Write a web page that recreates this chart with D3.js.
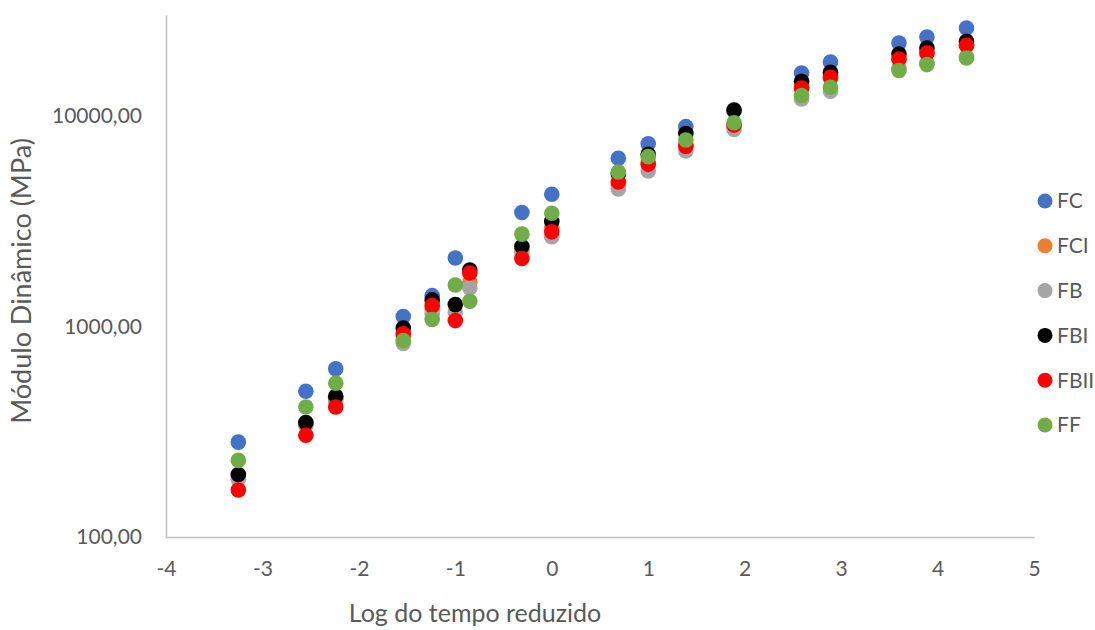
<!DOCTYPE html>
<html>
<head>
<meta charset="utf-8">
<script src="https://cdn.jsdelivr.net/npm/d3@7"></script>
<style>
  html, body { margin: 0; padding: 0; background: #ffffff; }
  svg { display: block; }
  text { font-family: Lato, "Open Sans", sans-serif; fill: #595959; }
</style>
</head>
<body>
<svg id="chart" width="1095" height="630"></svg>
<script>
// ---- data ----
const xValues = [-3.25, -2.55, -2.24, -1.54, -1.24, -1.0, -0.85, -0.31, 0, 0.69, 1.0, 1.39, 1.89, 2.59, 2.89, 3.60, 3.89, 4.30];
const seriesNames = ["FC", "FCI", "FB", "FBI", "FBII", "FF"];
const seriesColors = ["#4472c4", "#ed7d31", "#a5a5a5", "#000000", "#ff0000", "#70ad47"];
const FC   = [282, 492, 629, 1112, 1397, 2107, null, 3465, 4233, 6268, 7346, 8857, 10550, 15920, 17950, 22080, 23570, 26000];
const FCI  = [193, 343, 455, 900, 1200, null, 1616, 2300, 2950, 4700, 6000, 7300, 9000, 13500, 15000, 18500, 19800, 21500];
const FB   = [188, 338, 440, 828, 1145, 1165, 1520, 2233, 2659, 4483, 5459, 6787, 8594, 11990, 13040, 16800, 17800, 19000];
const FBI  = [198, 349, 465, 982, 1334, 1267, 1849, 2392, 3140, 5300, 6547, 8208, 10610, 14550, 16040, 19600, 20920, 22500];
const FBII = [167, 304, 414, 921, 1253, 1064, 1790, 2098, 2806, 4840, 5868, 7127, 9010, 13520, 15200, 18550, 19810, 21540];
const FF   = [231, 414, 537, 855, 1076, 1570, 1313, 2737, 3440, 5397, 6380, 7653, 9238, 12450, 13630, 16350, 17450, 18760];
const xTicks = [-4, -3, -2, -1, 0, 1, 2, 3, 4, 5];
const yTicks = [100, 1000, 10000];
const xTitle = "Log do tempo reduzido";
const yTitle = "Módulo Dinâmico (MPa)";

const seriesData = [FC, FCI, FB, FBI, FBII, FF];

// ---- layout ----
const svg = d3.select("#chart");
const x = d3.scaleLinear().domain([-4, 5]).range([166, 1034]);
const y = d3.scaleLog().domain([100, 30000]).range([537, 15]);

const axisColor = "#bfbfbf";

// y axis
const yAxis = svg.append("g").attr("transform", `translate(${x(-4)},0)`)
  .call(d3.axisLeft(y).tickValues(yTicks).tickSize(0).tickPadding(24)
    .tickFormat(d => d3.format(".2f")(d).replace(".", ",")));
yAxis.select(".domain").attr("stroke", axisColor).attr("stroke-width", 1.5);
yAxis.selectAll("text").style("font-size", "21px").attr("fill", "#595959").attr("font-family", "Lato, sans-serif");

// x axis
const xAxis = svg.append("g").attr("transform", `translate(0,${y(100)})`)
  .call(d3.axisBottom(x).tickValues(xTicks).tickSize(0).tickPadding(24)
    .tickFormat(d => String(d)));
xAxis.select(".domain").attr("stroke", axisColor).attr("stroke-width", 1.5);
xAxis.selectAll("text").style("font-size", "21px").attr("fill", "#595959").attr("font-family", "Lato, sans-serif");

// titles
svg.append("text").attr("x", 475).attr("y", 622).attr("text-anchor", "middle")
  .style("font-size", "25px").text(xTitle);
svg.append("text").attr("transform", `translate(31,281) rotate(-90)`).attr("text-anchor", "middle")
  .style("font-size", "27px").text(yTitle);

// points
seriesData.forEach((vals, i) => {
  const pts = xValues.map((xv, j) => ({x: xv, v: vals[j]})).filter(d => d.v != null);
  svg.append("g").selectAll("circle").data(pts).join("circle")
    .attr("cx", d => x(d.x)).attr("cy", d => y(d.v)).attr("r", 7.8)
    .attr("fill", seriesColors[i]);
});

// legend
const legend = svg.append("g");
seriesNames.forEach((name, i) => {
  const ly = 201 + i * 44.8;
  legend.append("circle").attr("cx", 1045).attr("cy", ly).attr("r", 7.5).attr("fill", seriesColors[i]);
  legend.append("text").attr("x", 1057).attr("y", ly).attr("dy", "0.35em")
    .style("font-size", "21px").text(name);
});
</script>
</body>
</html>
